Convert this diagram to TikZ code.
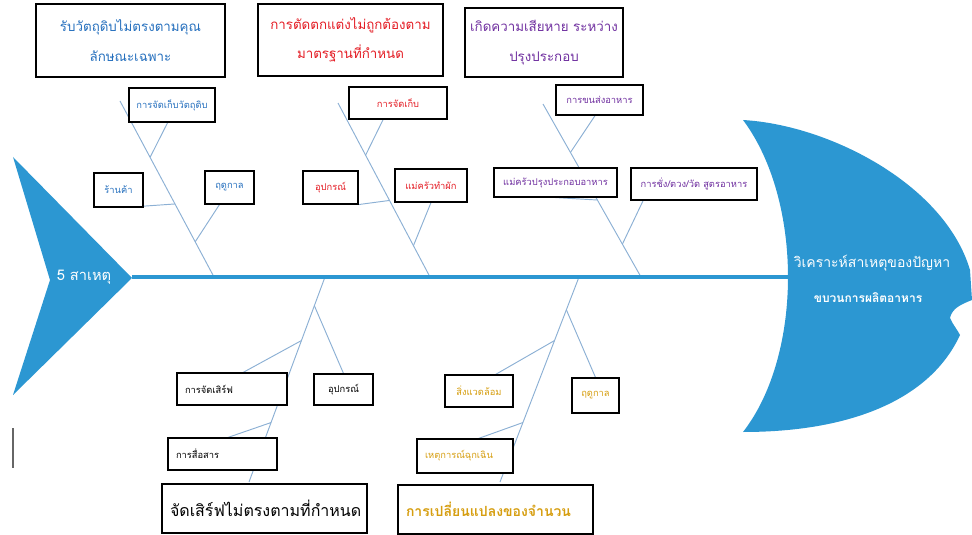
\documentclass[tikz,border=0pt]{standalone}
\usepackage{fontspec}
\newfontfamily\thaifont[Script=Thai]{Loma}
\usetikzlibrary{calc,backgrounds}
\definecolor{fishblue}{RGB}{44,151,210}
\definecolor{bonecol}{RGB}{140,176,212}
\definecolor{txtblue}{RGB}{38,112,190}
\definecolor{txtred}{RGB}{228,28,36}
\definecolor{txtpurple}{RGB}{112,48,160}
\definecolor{txtgold}{RGB}{214,158,16}
\tikzset{
	bone/.style={line width=0.25mm, color=bonecol},
	box/.style={draw=black, line width=0.3mm, fill=white, inner sep=0pt, align=center},
	smalllab/.style={box, font=\thaifont\fontsize{7}{8}\selectfont},
	toplab/.style={box, font=\thaifont\fontsize{10}{22}\selectfont},
	biglab/.style={box, font=\thaifont\fontsize{12}{14}\selectfont},
	leftlab/.style={align=left, inner xsep=6pt, text width=#1},
}

\begin{document}
\begin{tikzpicture}[x=0.75pt, y=-0.75pt]
		%%%%% START %%%%%
		\useasboundingbox (0,0) rectangle (972,535);
		
		\fill[fishblue] (13,157) -- (132,278) -- (13,395) -- (50,280) -- cycle;
		\fill[fishblue] (743,120) .. controls (830,125) and (945,185) .. (970,270) -- (972,300) .. controls (962,304) and (952,308) .. (950,318) .. controls (953,325) and (957,329) .. (960,335) .. controls (930,400) and (850,432) .. (743,432) .. controls (803,355) and (803,200) .. (743,120) -- cycle;
		
		\coordinate (tail) at (132,277);
		\coordinate (head) at (790,277);
		\draw[line width=1.1mm, color=fishblue] (tail) -- (head);
		
		\node[font=\thaifont\fontsize{11}{13}\selectfont, text=white] (causes) at (84,277) {5 สาเหตุ};
		\node[font=\thaifont\fontsize{10.5}{12}\selectfont, text=white] (problem) at (872,263) {วิเคราะห์สาเหตุของปัญหา};
		\node[font=\thaifont\bfseries\fontsize{9}{11}\selectfont, text=white] (process) at (868,298) {ขบวนการผลิตอาหาร};
		
		\coordinate (b1top) at (120,101);
		\coordinate (b1) at (214,277);
		\coordinate (b2top) at (338,103);
		\coordinate (b2) at (430,277);
		\coordinate (b3top) at (543,104);
		\coordinate (b3) at (641,277);
		\coordinate (b4) at (325,277);
		\coordinate (b4end) at (249,482);
		\coordinate (b5) at (579,277);
		\coordinate (b5end) at (500,482);
		
		\coordinate (j11) at ($(b1top)!0.32!(b1)$);
		\coordinate (j12) at ($(b1top)!0.585!(b1)$);
		\coordinate (j13) at ($(b1top)!0.8!(b1)$);
		\coordinate (j21) at ($(b2top)!0.3!(b2)$);
		\coordinate (j22) at ($(b2top)!0.56!(b2)$);
		\coordinate (j23) at ($(b2top)!0.82!(b2)$);
		\coordinate (j31) at ($(b3top)!0.28!(b3)$);
		\coordinate (j32) at ($(b3top)!0.555!(b3)$);
		\coordinate (j33) at ($(b3top)!0.81!(b3)$);
		\coordinate (j41) at ($(b4)!0.31!(b4end)$);
		\coordinate (j42) at ($(b4)!0.14!(b4end)$);
		\coordinate (j43) at ($(b4)!0.71!(b4end)$);
		\coordinate (j51) at ($(b5)!0.31!(b5end)$);
		\coordinate (j52) at ($(b5)!0.16!(b5end)$);
		\coordinate (j53) at ($(b5)!0.71!(b5end)$);
		
		% top causes
		\node[toplab, text=txtblue, minimum width=141.75pt, minimum height=54.75pt] (grpmat) at (130.5,40.5) {รับวัตถุดิบไม่ตรงตามคุณ\\ลักษณะเฉพาะ};
		\node[toplab, text=txtred, minimum width=138.75pt, minimum height=54pt] (grpcut) at (350.5,40) {การตัดตกแต่งไม่ถูกต้องตาม\\มาตรฐานที่กำหนด};
		\node[toplab, text=txtpurple, minimum width=118.5pt, minimum height=51.75pt] (grpcook) at (544,42.5) {เกิดความเสียหาย ระหว่าง\\ปรุงประกอบ};
		
		\node[smalllab, text=txtblue, minimum width=64.5pt, minimum height=25.5pt] (store1) at (172,105) {การจัดเก็บวัตถุดิบ};
		\node[smalllab, text=txtblue, minimum width=36.75pt, minimum height=25.5pt] (shop) at (118.5,190) {ร้านค้า};
		\node[smalllab, text=txtblue, minimum width=36.75pt, minimum height=24.75pt] (season1) at (229.5,187.5) {ฤดูกาล};
		
		\node[smalllab, text=txtred, minimum width=73.5pt, minimum height=24pt] (store2) at (398,103) {การจัดเก็บ};
		\node[smalllab, text=txtred, minimum width=41.25pt, minimum height=24.75pt] (tool1) at (330.5,187.5) {อุปกรณ์};
		\node[smalllab, text=txtred, minimum width=54pt, minimum height=24.75pt] (cookveg) at (431,185.5) {แม่ครัวทำผัก};
		
		\node[smalllab, text=txtpurple, minimum width=65.25pt, minimum height=22.5pt] (transport) at (599.5,100) {การขนส่งอาหาร};
		\node[smalllab, text=txtpurple, minimum width=92.25pt, minimum height=21.75pt] (cookmeal) at (555.5,182.5) {แม่ครัวปรุงประกอบอาหาร};
		\node[smalllab, text=txtpurple, minimum width=94.5pt, minimum height=24pt] (weigh) at (694,184) {การชั่ง/ตวง/วัด สูตรอาหาร};
		
		% bottom causes
		\node[smalllab, leftlab=70.5pt, minimum height=24pt] (serve) at (232,389) {การจัดเสิร์ฟ};
		\node[smalllab, minimum width=44.25pt, minimum height=23.25pt] (tool2) at (343.5,389.5) {อุปกรณ์};
		\node[smalllab, leftlab=69.75pt, minimum height=24pt] (comm) at (222.5,454) {การสื่อสาร};
		\node[biglab, leftlab=141.75pt, minimum height=36.75pt] (grpserve) at (264.5,508.5) {จัดเสิร์ฟไม่ตรงตามที่กำหนด};
		
		\node[smalllab, text=txtgold, minimum width=51pt, minimum height=24pt] (env) at (479,391) {สิ่งแวดล้อม};
		\node[smalllab, text=txtgold, minimum width=35.25pt, minimum height=26.25pt] (season2) at (595.5,395.5) {ฤดูกาล};
		\node[smalllab, text=txtgold, leftlab=60pt, minimum height=25.5pt] (emerg) at (465,456) {เหตุการณ์ฉุกเฉิน};
		\node[biglab, text=txtgold, font=\thaifont\bfseries\fontsize{10.5}{14}\selectfont, leftlab=134.25pt, minimum height=36.75pt] (grpqty) at (495.5,509.5) {การเปลี่ยนแปลงของจำนวน};
		
		\begin{scope}[on background layer]
		\draw[bone] (b1top) -- (b1);
		\draw[bone] (b2top) -- (b2);
		\draw[bone] (b3top) -- (b3);
		\draw[bone] (b4) -- (b4end);
		\draw[bone] (b5) -- (b5end);
		
		\draw[bone] ($(store1.south west)!0.45!(store1.south east)$) -- (j11);
		\draw[bone] ($(shop.south west)!0.6!(shop.south east)$) -- (j12);
		\draw[bone] ($(season1.south west)!0.3!(season1.south east)$) -- (j13);
		\draw[bone] ($(store2.south west)!0.35!(store2.south east)$) -- (j21);
		\draw[bone] (tool1.south east) -- (j22);
		\draw[bone] (cookveg.south) -- (j23);
		\draw[bone] ($(transport.south west)!0.45!(transport.south east)$) -- (j31);
		\draw[bone] (cookmeal.south) -- (j32);
		\draw[bone] ($(weigh.south west)!0.1!(weigh.south east)$) -- (j33);
		
		\draw[bone] ($(serve.north west)!0.6!(serve.north east)$) -- (j41);
		\draw[bone] (tool2.north) -- (j42);
		\draw[bone] ($(comm.north west)!0.55!(comm.north east)$) -- (j43);
		\draw[bone] ($(env.north west)!0.74!(env.north east)$) -- (j51);
		\draw[bone] (season2.north) -- (j52);
		\draw[bone] ($(emerg.north west)!0.64!(emerg.north east)$) -- (j53);
		\end{scope}
		
		\draw[line width=0.3mm, color=black!60] (13,428) -- (13,468);
		%%%%% END %%%%%
\end{tikzpicture}
\end{document}
